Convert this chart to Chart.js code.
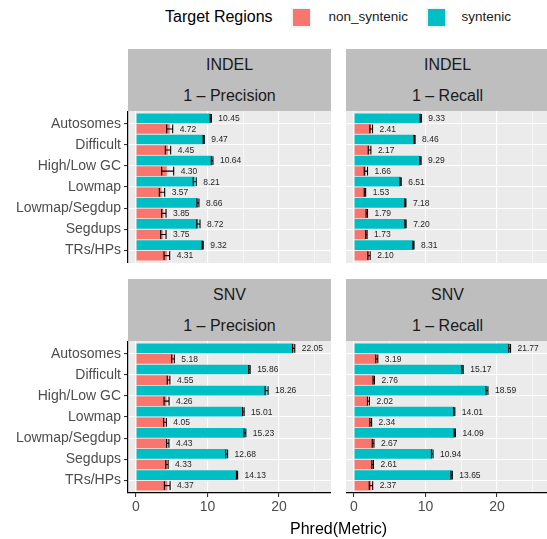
<!DOCTYPE html>
<html>
<head>
<meta charset="utf-8">
<script src="https://cdn.jsdelivr.net/npm/chart.js@4.4.1/dist/chart.umd.min.js"></script>
<style>
  html, body { margin: 0; padding: 0; background: #fff; }
  #fig { position: relative; width: 547px; height: 539px; overflow: hidden;
         font-family: 'Liberation Sans', Arial, sans-serif; }
  .strip { position: absolute; background: #BEBEBE; height: 62px; }
  .strip span { position: absolute; left: 0; right: 0; text-align: center;
                font-size: 16px; line-height: 16px; color: #1A1A1A; white-space: nowrap; }
  .strip .l1 { top: 8px; }
  .strip .l2 { top: 39px; }
  canvas { position: absolute; }
  .txt { position: absolute; white-space: nowrap; }
  .key { position: absolute; width: 20px; height: 20px; background: #F2F2F2; }
  .key i { position: absolute; left: 1.5px; top: 1.5px; width: 17px; height: 17px; }
</style>
</head>
<body>
<div id="fig">
  <!-- legend -->
  <div class="txt" style="left:165px; top:8px; font-size:16px; line-height:18px; color:#000;">Target Regions</div>
  <div class="key" style="left:291px; top:7.5px;"><i style="background:#F8766D"></i></div>
  <div class="txt" style="left:328.5px; top:9px; font-size:13.5px; line-height:16px; color:#1A1A1A;">non_syntenic</div>
  <div class="key" style="left:426px; top:7.5px;"><i style="background:#00BFC4"></i></div>
  <div class="txt" style="left:461.5px; top:9px; font-size:13.5px; line-height:16px; color:#1A1A1A;">syntenic</div>

  <!-- facet strips -->
  <div class="strip" style="left:128px; top:49px; width:203px;"><span class="l1">INDEL</span><span class="l2">1 – Precision</span></div>
  <div class="strip" style="left:346px; top:49px; width:203px;"><span class="l1">INDEL</span><span class="l2">1 – Recall</span></div>
  <div class="strip" style="left:128px; top:279px; width:203px;"><span class="l1">SNV</span><span class="l2">1 – Precision</span></div>
  <div class="strip" style="left:346px; top:279px; width:203px;"><span class="l1">SNV</span><span class="l2">1 – Recall</span></div>

  <canvas id="indelPrec" width="331" height="152" style="left:0; top:111px;"></canvas>
  <canvas id="indelRec" width="203" height="152" style="left:346px; top:111px;"></canvas>
  <canvas id="snvPrec" width="331" height="182" style="left:0; top:341px;"></canvas>
  <canvas id="snvRec" width="203" height="182" style="left:346px; top:341px;"></canvas>

  <div class="txt" style="left:128px; width:421px; top:519px; text-align:center; font-size:16px; line-height:20px; color:#000;">Phred(Metric)</div>
</div>

<script>
// Region categories, top to bottom
const REGIONS = ['Autosomes', 'Difficult', 'High/Low GC', 'Lowmap', 'Lowmap/Segdup', 'Segdups', 'TRs/HPs'];

// x-axis gridline positions and the ones that carry a label
const X_GRID = [0, 5, 10, 15, 20, 25];
const X_LABELLED = [0, 10, 20];

// INDEL, 1 - Precision
const INDEL_PREC_SYN    = [10.45, 9.47, 10.64, 8.21, 8.66, 8.72, 9.32];
const INDEL_PREC_SYN_LO = [10.36, 9.39, 10.53, 8.00, 8.52, 8.49, 9.24];
const INDEL_PREC_SYN_HI = [10.54, 9.55, 10.76, 8.42, 8.80, 8.95, 9.40];
const INDEL_PREC_NON    = [4.72, 4.45, 4.30, 3.57, 3.85, 3.75, 4.31];
const INDEL_PREC_NON_LO = [4.29, 4.10, 3.59, 3.26, 3.59, 3.45, 3.92];
const INDEL_PREC_NON_HI = [5.13, 4.85, 5.27, 4.01, 4.20, 4.20, 4.71];

// INDEL, 1 - Recall
const INDEL_REC_SYN    = [9.33, 8.46, 9.29, 6.51, 7.18, 7.20, 8.31];
const INDEL_REC_SYN_LO = [9.24, 8.38, 9.20, 6.42, 7.10, 7.11, 8.23];
const INDEL_REC_SYN_HI = [9.42, 8.54, 9.38, 6.60, 7.26, 7.29, 8.39];
const INDEL_REC_NON    = [2.41, 2.17, 1.66, 1.53, 1.79, 1.73, 2.10];
const INDEL_REC_NON_LO = [2.22, 1.99, 1.43, 1.43, 1.69, 1.63, 1.94];
const INDEL_REC_NON_HI = [2.59, 2.36, 1.89, 1.63, 1.89, 1.83, 2.26];

// SNV, 1 - Precision
const SNV_PREC_SYN    = [22.05, 15.86, 18.26, 15.01, 15.23, 12.68, 14.13];
const SNV_PREC_SYN_LO = [21.90, 15.76, 18.05, 14.90, 15.10, 12.55, 14.05];
const SNV_PREC_SYN_HI = [22.20, 15.96, 18.47, 15.12, 15.36, 12.81, 14.21];
const SNV_PREC_NON    = [5.18, 4.55, 4.26, 4.05, 4.43, 4.33, 4.37];
const SNV_PREC_NON_LO = [4.99, 4.37, 3.92, 3.86, 4.27, 4.17, 3.97];
const SNV_PREC_NON_HI = [5.36, 4.74, 4.62, 4.24, 4.60, 4.49, 4.77];

// SNV, 1 - Recall
const SNV_REC_SYN    = [21.77, 15.17, 18.59, 14.01, 14.09, 10.94, 13.65];
const SNV_REC_SYN_LO = [21.65, 15.07, 18.45, 13.92, 14.00, 10.83, 13.55];
const SNV_REC_SYN_HI = [21.89, 15.27, 18.73, 14.10, 14.18, 11.05, 13.75];
const SNV_REC_NON    = [3.19, 2.76, 2.02, 2.34, 2.67, 2.61, 2.37];
const SNV_REC_NON_LO = [3.05, 2.66, 1.88, 2.22, 2.55, 2.50, 2.13];
const SNV_REC_NON_HI = [3.33, 2.86, 2.16, 2.46, 2.79, 2.72, 2.61];

const COL_SYN = '#00BFC4';
const COL_NON = '#F8766D';
const FONT = "'Liberation Sans', Arial, sans-serif";

Chart.defaults.font.family = FONT;

// grey panel background, error bars and value labels
const panelMarks = {
  id: 'panelMarks',
  beforeDraw(chart) {
    const a = chart.chartArea, ctx = chart.ctx;
    ctx.save();
    ctx.fillStyle = '#EBEBEB';
    ctx.fillRect(a.left, a.top, a.right - a.left, a.bottom - a.top);
    ctx.restore();
  },
  afterDatasetsDraw(chart) {
    const ctx = chart.ctx, xs = chart.scales.x;
    ctx.save();
    chart.data.datasets.forEach((ds, di) => {
      const meta = chart.getDatasetMeta(di);
      meta.data.forEach((bar, i) => {
        const lo = xs.getPixelForValue(ds.errLo[i]);
        const hi = xs.getPixelForValue(ds.errHi[i]);
        const y = bar.y, h = 4.4;
        ctx.strokeStyle = '#000';
        ctx.lineWidth = 1.1;
        ctx.beginPath();
        ctx.moveTo(lo, y); ctx.lineTo(hi, y);
        ctx.moveTo(lo, y - h); ctx.lineTo(lo, y + h);
        ctx.moveTo(hi, y - h); ctx.lineTo(hi, y + h);
        ctx.stroke();

        // value label sits just past the end of the bar / its error bar
        const txt = ds.data[i].x.toFixed(2);
        ctx.font = '8.5px ' + FONT;
        ctx.fillStyle = '#1F1F1F';
        ctx.textAlign = 'left';
        ctx.textBaseline = 'middle';
        ctx.fillText(txt, Math.max(bar.x, hi) + 7, y + 0.5);
      });
    });
    ctx.restore();
  }
};

function series(values, lo, hi, label, color) {
  return {
    label,
    data: values.map((v, i) => ({ x: v, y: i })),
    errLo: lo,
    errHi: hi,
    backgroundColor: color,
    borderWidth: 0,
    categoryPercentage: 1.0,
    barPercentage: 0.92
  };
}

function panel(id, syn, synLo, synHi, non, nonLo, nonHi, showY, showX) {
  return new Chart(document.getElementById(id), {
    type: 'bar',
    data: {
      datasets: [
        series(syn, synLo, synHi, 'syntenic', COL_SYN),
        series(non, nonLo, nonHi, 'non_syntenic', COL_NON)
      ]
    },
    options: {
      indexAxis: 'y',
      responsive: false,
      animation: false,
      devicePixelRatio: 1,
      layout: { padding: 0 },
      plugins: { legend: { display: false }, tooltip: { enabled: false } },
      scales: {
        x: {
          type: 'linear',
          min: -1.12,
          max: 27.27,
          offset: false,
          afterBuildTicks: s => { s.ticks = X_GRID.map(v => ({ value: v })); },
          afterFit: s => { s.height = showX ? 30 : 0; s.paddingLeft = 0; s.paddingRight = 0; },
          grid: {
            offset: false,
            color: '#FFFFFF',
            lineWidth: c => (c.tick && c.tick.value % 10 === 0) ? 1.1 : 0.55,
            drawTicks: showX,
            tickLength: 4,
            tickWidth: 1.1,
            tickColor: c => (c.tick && X_LABELLED.includes(c.tick.value)) ? '#333333' : 'rgba(0,0,0,0)'
          },
          border: { display: showX, color: '#000000', width: 1.2 },
          ticks: {
            display: showX,
            autoSkip: false,
            maxRotation: 0,
            padding: 2,
            color: '#4D4D4D',
            font: { size: 14 },
            callback: v => X_LABELLED.includes(v) ? String(v) : ''
          }
        },
        y: {
          type: 'linear',
          reverse: true,
          offset: false,
          min: -0.6,
          max: 6.6,
          afterBuildTicks: s => { s.ticks = REGIONS.map((_, i) => ({ value: i })); },
          afterFit: s => { s.width = showY ? 128 : 0; s.paddingTop = 0; s.paddingBottom = 0; },
          grid: {
            offset: false,
            color: '#FFFFFF',
            lineWidth: 1.1,
            drawTicks: showY,
            tickLength: 4,
            tickWidth: 1.1,
            tickColor: '#333333'
          },
          border: { display: showY, color: '#000000', width: 1.2 },
          ticks: {
            display: showY,
            autoSkip: false,
            padding: 3,
            color: '#4D4D4D',
            font: { size: 14 },
            callback: v => REGIONS[v]
          }
        }
      }
    },
    plugins: [panelMarks]
  });
}

panel('indelPrec', INDEL_PREC_SYN, INDEL_PREC_SYN_LO, INDEL_PREC_SYN_HI,
      INDEL_PREC_NON, INDEL_PREC_NON_LO, INDEL_PREC_NON_HI, true, false);
panel('indelRec', INDEL_REC_SYN, INDEL_REC_SYN_LO, INDEL_REC_SYN_HI,
      INDEL_REC_NON, INDEL_REC_NON_LO, INDEL_REC_NON_HI, false, false);
panel('snvPrec', SNV_PREC_SYN, SNV_PREC_SYN_LO, SNV_PREC_SYN_HI,
      SNV_PREC_NON, SNV_PREC_NON_LO, SNV_PREC_NON_HI, true, true);
panel('snvRec', SNV_REC_SYN, SNV_REC_SYN_LO, SNV_REC_SYN_HI,
      SNV_REC_NON, SNV_REC_NON_LO, SNV_REC_NON_HI, false, true);
</script>
</body>
</html>
